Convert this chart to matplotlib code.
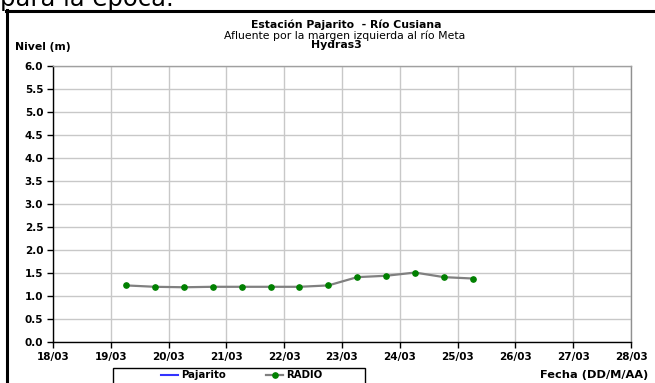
import matplotlib
matplotlib.use("Agg")
import matplotlib.pyplot as plt
import matplotlib.dates as mdates
from matplotlib.lines import Line2D
from matplotlib.patches import Rectangle
import pandas as pd

plt.rcParams['font.family'] = ['DejaVu Sans']

# ---- data ----
radio_times = ["2011-03-19 06:20", "2011-03-19 18:20", "2011-03-20 06:20", "2011-03-20 18:20",
               "2011-03-21 06:20", "2011-03-21 18:20", "2011-03-22 06:20", "2011-03-22 18:20",
               "2011-03-23 06:20", "2011-03-23 18:20", "2011-03-24 06:20", "2011-03-24 18:20",
               "2011-03-25 06:20"]
radio_values = [1.23, 1.20, 1.19, 1.20, 1.20, 1.20, 1.20, 1.23, 1.41, 1.44, 1.51, 1.41, 1.38]
pajarito_times = []
pajarito_values = []
x_tick_dates = ["2011-03-18", "2011-03-19", "2011-03-20", "2011-03-21", "2011-03-22", "2011-03-23",
                "2011-03-24", "2011-03-25", "2011-03-26", "2011-03-27", "2011-03-28"]
x_tick_labels = ["18/03", "19/03", "20/03", "21/03", "22/03", "23/03",
                 "24/03", "25/03", "26/03", "27/03", "28/03"]
y_ticks = [0.0, 0.5, 1.0, 1.5, 2.0, 2.5, 3.0, 3.5, 4.0, 4.5, 5.0, 5.5, 6.0]

W, H = 655, 383
fig = plt.figure(figsize=(W / 100, H / 100), dpi=100)

def fx(px):
    return px / W

def fy(py):
    return 1 - py / H

ax = fig.add_axes([fx(53), fy(342), fx(631) - fx(53), fy(66) - fy(342)])

rt = pd.to_datetime(radio_times)
pt = pd.to_datetime(pajarito_times)
l_paj, = ax.plot(pt, pajarito_values, color='#3333ff', lw=1.5, label='Pajarito')
l_rad, = ax.plot(rt, radio_values, color='#808080', lw=1.6, marker='o', ms=3.8,
                 mfc='#008000', mec='#008000', label='RADIO', zorder=3)

xt = pd.to_datetime(x_tick_dates)
ax.set_xlim(mdates.date2num(xt[0]), mdates.date2num(xt[-1]))
ax.set_xticks(xt)
ax.set_xticklabels(x_tick_labels, fontsize=7.5, fontweight='bold')
ax.set_ylim(0, 6)
ax.set_yticks(y_ticks)
ax.set_yticklabels([f"{v:.1f}" for v in y_ticks], fontsize=7.5, fontweight='bold')
ax.grid(True, color='#c8c8c8', lw=1)
ax.set_axisbelow(True)
ax.tick_params(axis='both', direction='out', length=4, width=1, color='black', pad=3)
ax.spines['left'].set_color('black')
ax.spines['bottom'].set_color('black')
ax.spines['top'].set_color('#a0a0a0')
ax.spines['right'].set_color('#909090')
for s in ax.spines.values():
    s.set_linewidth(1)

# titles
fig.text(fx(346), fy(25), "Estación Pajarito  - Río Cusiana", ha='center', va='center',
         fontsize=7.8, fontweight='bold')
fig.text(fx(345), fy(35.5), "Afluente por la margen izquierda al río Meta", ha='center', va='center',
         fontsize=7.8)
fig.text(fx(336), fy(45), "Hydras3", ha='center', va='center', fontsize=7.8, fontweight='bold')
fig.text(fx(15), fy(47), "Nivel (m)", ha='left', va='center', fontsize=7.8, fontweight='bold')
fig.text(fx(648), fy(375), "Fecha (DD/M/AA)", ha='right', va='center', fontsize=8.2,
         fontweight='bold')

# text above the chart frame (cut off)
fig.text(fx(0), fy(6), "para la época.", ha='left', va='baseline', fontsize=17.5)

# frame lines
fig.add_artist(Line2D([fx(7), fx(7)], [fy(10), fy(400)], color='black', lw=2.2))
fig.add_artist(Line2D([fx(6), fx(660)], [fy(11), fy(11)], color='black', lw=2.2))

# legend
fig.add_artist(Rectangle((fx(113), fy(395)), fx(365) - fx(113), fy(368) - fy(395),
                         fill=False, ec='black', lw=1))
leg = fig.legend(handles=[l_paj, l_rad], loc='center left', ncol=2,
                 bbox_to_anchor=(fx(161), fy(375.5)), frameon=False,
                 prop={'weight': 'bold', 'size': 7.3}, handlelength=1.7, handletextpad=0.25,
                 columnspacing=4.0, borderpad=0, borderaxespad=0)

fig.savefig("out.png", dpi=100)
